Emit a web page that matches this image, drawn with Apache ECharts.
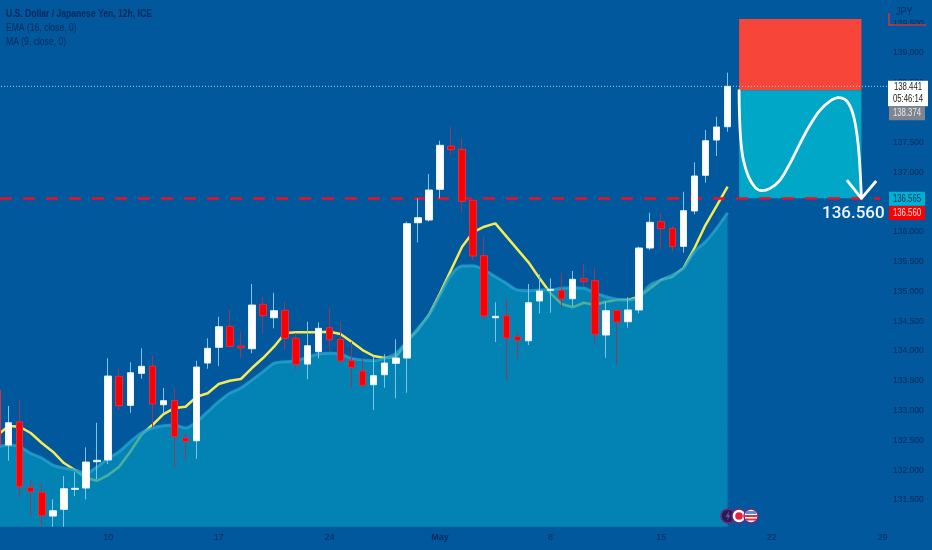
<!DOCTYPE html>
<html><head><meta charset="utf-8">
<style>html,body{margin:0;padding:0;background:#01589c}#c{width:932px;height:550px}</style>
<script src="https://cdn.jsdelivr.net/npm/echarts@6/dist/echarts.min.js"></script>
</head><body><div id="c"></div>
<script>
var tickLabels = {10:'10',20:'17',30:'24',40:'May',50:'8',60:'15',70:'22',80:'29'};
var opens = [133.345,132.422,132.813,131.712,131.629,131.231,131.343,131.679,131.701,132.142,132.171,133.575,133.088,133.625,133.748,133.098,133.166,132.54,132.494,133.798,134.062,134.414,134.083,134.038,134.783,134.558,134.682,134.213,133.781,133.988,134.391,134.196,133.837,133.664,133.434,133.602,133.793,133.882,136.152,136.198,136.713,137.439,137.384,136.528,135.599,134.558,134.592,134.239,134.172,134.839,135.018,135.018,134.877,135.213,135.179,134.268,134.682,134.491,134.688,135.728,136.169,136.058,135.756,136.349,136.948,137.54,137.763];
var closes = [132.422,132.796,131.723,131.639,131.236,131.32,131.689,131.696,132.137,132.166,133.58,133.082,133.635,133.743,133.11,133.166,132.562,132.484,133.731,134.045,134.407,134.078,134.05,134.771,134.592,134.676,134.213,133.776,134.088,134.38,134.189,133.832,133.726,133.424,133.585,133.798,133.882,136.136,136.236,136.701,137.451,137.377,136.511,135.594,134.587,134.582,134.218,134.179,134.81,135.006,135.035,134.872,135.203,135.169,134.28,134.676,134.486,134.688,135.728,136.159,136.052,135.75,136.354,136.936,137.528,137.758,138.441];
var lows = [132.389,132.159,131.545,131.231,131.05,131.05,131.05,131.567,131.511,131.847,132.103,132.998,132.964,133.535,132.729,132.954,132.048,132.171,132.192,133.702,133.748,134.067,133.882,133.961,134.296,134.38,134.016,133.692,133.525,133.877,134.016,133.815,133.374,133.395,133.01,133.384,133.206,133.3,135.823,136.169,136.562,137.288,136.31,135.526,134.52,134.151,133.513,133.877,134.1,134.632,134.642,134.733,134.755,135.078,134.129,133.887,133.765,134.391,134.632,135.694,135.711,135.666,135.649,136.293,136.823,137.271,137.679];
var highs = [133.379,133.077,133.177,131.835,131.78,131.511,131.902,131.974,132.384,132.796,133.877,133.709,133.81,134.045,133.916,133.379,133.374,132.629,133.837,134.213,134.575,134.688,134.323,135.124,134.911,134.978,134.827,134.296,134.491,134.481,134.716,134.491,134.156,133.877,133.904,133.944,134.196,136.169,136.562,136.969,137.528,137.763,137.568,136.533,135.917,134.817,134.884,134.313,135.124,135.286,135.219,135.313,135.342,135.459,135.397,134.827,134.688,134.901,135.75,136.32,136.31,136.097,136.672,137.166,137.708,137.931,138.669];
var maValues = [132.59,132.741,132.729,132.624,132.456,132.31,132.12,132.003,131.869,131.823,131.919,132.058,132.31,132.59,132.758,132.942,133.043,133.065,133.233,133.29,133.446,133.501,133.53,133.714,133.882,134.072,134.301,134.313,134.313,134.313,134.323,134.285,134.156,134.016,133.916,133.882,133.894,134.156,134.352,134.604,134.968,135.359,135.75,135.996,136.085,136.142,135.924,135.706,135.488,135.219,134.968,134.788,134.733,134.81,134.771,134.827,134.855,134.855,134.911,135.052,135.191,135.246,135.387,135.723,136.114,136.432,136.756];
var emaValues = [132.394,132.422,132.394,132.283,132.204,132.087,132.036,132.003,131.948,132.053,132.199,132.31,132.478,132.624,132.708,132.746,132.758,132.708,132.813,132.981,133.149,133.29,133.379,133.513,133.652,133.793,133.82,133.837,133.894,133.944,133.961,133.944,133.877,133.849,133.837,133.877,133.961,134.156,134.38,134.604,134.939,135.275,135.426,135.431,135.359,135.246,135.135,135.023,135.011,135.023,135.023,135.052,135.062,135.052,134.978,134.911,134.867,134.855,134.911,135.107,135.191,135.275,135.387,135.666,135.833,136.058,136.32];
var curveX = [67.04,67.07,67.19,67.43,67.89,68.49,69.09,69.84,70.74,71.64,72.55,73.45,74.36,75.26,76.02,76.77,77.32,77.68,77.92,78.1];
var curveY = [138.368,137.987,137.54,137.204,136.925,136.746,136.69,136.729,136.869,137.148,137.484,137.792,138.043,138.194,138.25,138.194,137.987,137.652,137.204,136.561];
var arrowPoints = [[76.78,136.869],[78.1,136.561],[79.43,136.852]];
var levels = {last:138.441, prev:138.374, cyan:136.565, red:136.56, stopTop:139.57};
var legendLines = ['U.S. Dollar / Japanese Yen, 12h, ICE','EMA (16, close, 0)','MA (9, close, 0)'];

var categories = [];
for (var n = 0; n <= 80; n++) categories.push(tickLabels[n] || '');
var wicks = opens.map(function(o,i){return [o,closes[i],lows[i],highs[i]];});
var bodies = opens.map(function(o,i){var c=closes[i];return [o,c,Math.min(o,c),Math.max(o,c)];});
var curvePoints = curveX.map(function(x,i){return [x,curveY[i]];});

var ink = '#07295c';
var face = '"Liberation Sans",sans-serif';
var chart = echarts.init(document.getElementById('c'), null, {renderer:'canvas'});
var base = {type:'line',symbol:'none',silent:true,animation:false,xAxisIndex:0,yAxisIndex:0};
function ext(a,b){return Object.assign({},a,b);}
var option = {
  backgroundColor:'#01589c', animation:false,
  grid:{left:-8,top:-6.6,width:896,height:536.4,containLabel:false,outerBoundsMode:'none'},
  xAxis:[
    {type:'category',data:categories,boundaryGap:true,
     axisLine:{show:false},axisTick:{show:false},splitLine:{show:false},
     axisLabel:{interval:0,margin:3,fontSize:9,color:ink,fontFamily:face,hideOverlap:false,
       formatter:function(v){return v==='May'?'{b|May}':v;},rich:{b:{fontWeight:'bold',fontSize:9,color:ink,fontFamily:face}}}},
    {type:'value',min:-0.5,max:80.5,show:false,splitLine:{show:false}}
  ],
  yAxis:[{type:'value',position:'right',min:131,max:140,interval:0.5,
    axisLine:{show:false},axisTick:{show:false},splitLine:{show:false},
    axisLabel:{margin:5,fontSize:8.5,color:ink,fontFamily:face,
      formatter:function(v){return (v<=131||v>=140)?'':v.toFixed(3);}}}],
  series:[
    ext(base,{type:'line',name:'MA',data:maValues,z:2,lineStyle:{color:'#f5ea55',width:2.5}}),
    ext(base,{type:'line',name:'EMA',data:emaValues,smooth:0.3,z:3,
      lineStyle:{color:'rgba(40,165,205,0.75)',width:3},
      areaStyle:{color:'rgba(4,150,189,0.7)',origin:131.05,opacity:1}}),
    ext(base,{type:'line',name:'levels',xAxisIndex:1,z:4,
      data:[[-0.5,levels.red],[79.8,levels.red]],
      lineStyle:{color:'#e8102a',width:2.5,type:[12,11],dashOffset:15},
      markArea:{silent:true,animation:false,z:1,data:[
        [{coord:[67.04,levels.stopTop],itemStyle:{color:'#f7453a'}},{coord:[78.1,levels.prev]}],
        [{coord:[67.04,levels.prev],itemStyle:{color:'#00a7c7'}},{coord:[78.1,levels.cyan]}]
      ]}}),
    ext(base,{type:'line',name:'last',xAxisIndex:1,z:4,
      data:[[-0.5,levels.last],[80.5,levels.last]],
      lineStyle:{color:'rgba(190,225,245,0.85)',width:1,type:[1,2]}}),
    {type:'candlestick',name:'wicks',data:wicks,barWidth:1,z:5,silent:true,animation:false,
      itemStyle:{color:'#7cc6ea',color0:'#8e3b5e',borderColor:'#7cc6ea',borderColor0:'#8e3b5e',borderWidth:1}},
    {type:'candlestick',name:'bodies',data:bodies,barWidth:7,z:6,silent:true,animation:false,
      itemStyle:{color:'#ffffff',color0:'#fb0000',borderColor:'#e6f3fb',borderColor0:'#d8324a',borderWidth:1}},
    ext(base,{type:'line',name:'curve',xAxisIndex:1,data:curvePoints,smooth:0.35,z:7,
      lineStyle:{color:'#ffffff',width:2.8,cap:'round'}}),
    ext(base,{type:'line',name:'arrow',xAxisIndex:1,data:arrowPoints,z:7,
      lineStyle:{color:'#ffffff',width:2.8}})
  ]
};
chart.setOption(option);

function py(v){return chart.convertToPixel({yAxisIndex:0},v);}
function tag(x,y,w,h,fill){return {type:'rect',z:100,shape:{x:x,y:y,width:w,height:h},style:{fill:fill}};}
function txt(x,y,t,color,size,extra,sx){
  return {type:'text',z:101,x:x,y:y,scaleX:sx||1,originX:0,originY:0,
    style:Object.assign({x:0,y:0,text:t,fill:color,font:size+'px '+face,textVerticalAlign:'middle'},extra||{})};
}
var yLast=py(levels.last), yPrev=py(levels.prev), yCy=py(levels.cyan), yRed=py(levels.red);
var g=[];
legendLines.forEach(function(t,i){
  g.push(txt(6,14+i*14,t,ink,11,i===0?{font:'bold 11px '+face}:{},0.78));
});
var CX=0.74;
g.push(tag(888,yLast-5.5,40,25.5,'#ffffff'));
g.push(txt(908,yLast+0.5,levels.last.toFixed(3),'#222',10.5,{textAlign:'center'},CX));
g.push(txt(908,yLast+13,'05:46:14','#222',10.5,{textAlign:'center'},CX));
g.push(tag(889,yPrev+16,36,14,'#7f8590'));
g.push(txt(907,yPrev+23,levels.prev.toFixed(3),'#e8e8e8',10.5,{textAlign:'center'},CX));
g.push(tag(889,yCy-6.5,36,14,'#00b2d2'));
g.push(txt(907,yCy+0.5,levels.cyan.toFixed(3),ink,10.5,{textAlign:'center'},CX));
g.push(tag(889,yRed+7.5,36,14,'#fb0000'));
g.push(txt(907,yRed+14.5,levels.red.toFixed(3),'#f4e8e8',10.5,{textAlign:'center'},CX));
g.push(txt(822,yRed+15,levels.red.toFixed(3),'#eef6fb',17,{font:'500 17px Roboto,sans-serif'}));
// watermark logo
g.push(txt(896,12,'JPY',ink,10.5,{},0.85));
g.push({type:'polyline',z:101,shape:{points:[[889,13],[889,25],[926,25]]},style:{stroke:'#c9383f',lineWidth:1.5,fill:null}});
// event badges
[[728,'#2a1c52'],[739,'#ffffff'],[751,'#ffffff']].forEach(function(b){
  g.push({type:'circle',z:102,shape:{cx:b[0],cy:516,r:7},style:{fill:b[1],stroke:'#6b2a86',lineWidth:1.5}});
});
g.push({type:'polygon',z:103,shape:{points:[[729,511],[725.5,517],[728,517],[727,521],[730.5,515],[728.5,515]]},style:{fill:'#6b4aa0'}});
g.push({type:'circle',z:103,shape:{cx:739,cy:516,r:3.8},style:{fill:'#e8203a'}});
g.push({type:'rect',z:103,shape:{x:745,y:515,width:12,height:2},style:{fill:'#d8324a'}});
g.push({type:'rect',z:103,shape:{x:746,y:518.5,width:10,height:2},style:{fill:'#d8324a'}});
g.push({type:'rect',z:103,shape:{x:746,y:511,width:10,height:3},style:{fill:'#5b8fd6'}});
chart.setOption({graphic:{elements:g}});
</script></body></html>
